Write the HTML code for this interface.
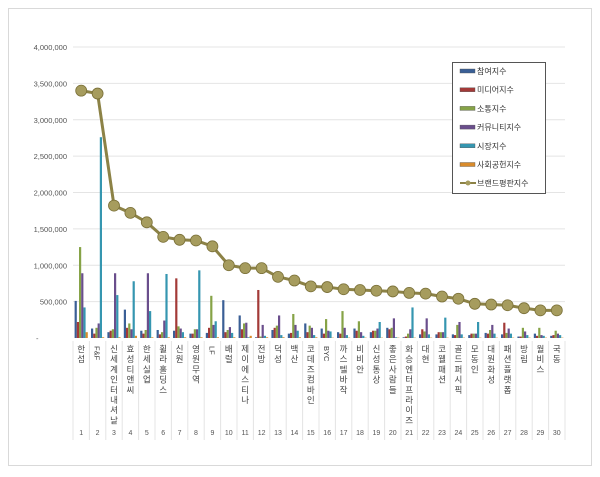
<!DOCTYPE html>
<html><head><meta charset="utf-8"><style>
body{margin:0;background:#fff;width:600px;height:472px;overflow:hidden}
svg{font-family:"Liberation Sans","Noto Sans CJK KR",sans-serif}
</style></head><body>
<svg id="s" width="600" height="472" xmlns="http://www.w3.org/2000/svg"></svg>
<script>
const s=document.getElementById('s');
let h='<rect x="8.5" y="8.5" width="583" height="457" fill="#fff" stroke="#d9d9d9"/>';
const x0=73,x1=565,cw=(x1-x0)/30,yz=338,ppk=(338-47)/4000;
const Y=v=>yz-v*ppk;
const ticks=['-','500,000','1,000,000','1,500,000','2,000,000','2,500,000','3,000,000','3,500,000','4,000,000'];
ticks.forEach((t,i)=>{const y=Y(i*500);
 if(i>0)h+=`<line x1="${x0}" x2="${x1}" y1="${y}" y2="${y}" stroke="#e4e4e4"/>`;
 h+=`<text x="${i==0?36:67}" y="${y+3}" font-size="7.5" fill="#555" text-anchor="${i==0?'start':'end'}">${t}</text>`;});
const cols=['#3a5f96','#a33a38','#86a347','#6a4e8c','#3596b0','#d98b2b'];
const bars=[[510,220,1250,890,420,80],[130,60,140,200,2760,10],[80,100,120,890,590,10],[390,140,200,120,780,30],[100,60,110,890,370,10],[110,50,80,240,880,10],[100,820,160,130,80,10],[60,60,120,120,930,10],[70,140,580,180,230,10],[520,80,110,150,70,10],[310,120,200,210,10,30],[10,660,20,180,30,10],[110,140,170,310,40,10],[60,70,330,180,100,10],[200,80,170,140,40,10],[130,60,260,100,90,5],[80,60,370,140,40,5],[130,100,230,80,30,5],[80,100,100,130,220,5],[140,120,140,270,10,5],[10,20,60,120,420,5],[50,120,90,270,50,5],[50,80,80,80,280,5],[50,40,180,220,50,5],[40,60,60,60,220,5],[70,60,110,180,60,5],[50,210,70,130,60,5],[20,20,140,90,40,5],[60,30,140,40,30,5],[30,40,100,60,40,5]];
const brand=[3400,3360,1820,1720,1590,1390,1350,1340,1260,1000,960,960,840,790,710,700,670,660,650,640,620,610,570,540,470,460,450,410,380,380];
const names=['한섬','F&F','신세계인터내셔날','효성티앤씨','한세실업','휠라홀딩스','신원','영원무역','LF','배럴','제이에스티나','전방','덕성','백산','코데즈컴바인','BYC','까스텔바작','비비안','신성통상','좋은사람들','화승엔터프라이즈','대현','코웰패션','골드퍼시픽','F&F','대원화성','패션플랫폼','방림','월비스','국동'];
names[24]='모동인';names[1]='F&F';
const bw=2.2;
for(let i=0;i<30;i++){const cx=x0+cw*i+cw/2;
 bars[i].forEach((v,j)=>{const x=cx-3*bw+j*bw;h+=`<rect x="${x}" y="${Y(v)}" width="${bw}" height="${v*ppk}" fill="${cols[j]}"/>`;});
 h+=`<line x1="${x0+cw*i}" x2="${x0+cw*i}" y1="341" y2="440" stroke="#e4e4e4"/>`;
 const nm=names[i];
 if(/^[A-Z&]+$/.test(nm)) h+=`<text transform="translate(${cx-3},346) rotate(90)" font-size="7.5" fill="#444">${nm}</text>`;
 else [...nm].forEach((c,k)=>h+=`<text x="${cx}" y="${352+k*10.2}" font-size="8.5" fill="#444" text-anchor="middle">${c}</text>`);
 h+=`<text x="${cx}" y="435" font-size="7" fill="#555" text-anchor="middle">${i+1}</text>`;}
h+=`<line x1="${x1}" x2="${x1}" y1="341" y2="440" stroke="#e4e4e4"/>`;
let p=brand.map((v,i)=>`${x0+cw*i+cw/2},${Y(v)}`).join(' ');
h+=`<polyline points="${p}" fill="none" stroke="#8c8246" stroke-width="3"/>`;
brand.forEach((v,i)=>h+=`<circle cx="${x0+cw*i+cw/2}" cy="${Y(v)}" r="5.5" fill="#a69c5e" stroke="#7a7038" stroke-width="0.8"/>`);
h+=`<rect x="452.5" y="62.5" width="93" height="131" fill="#fff" stroke="#555"/>`;
const lg=['참여지수','미디어지수','소통지수','커뮤니티지수','시장지수','사회공헌지수'];
lg.forEach((t,i)=>{const y=71+i*18.7;h+=`<rect x="460" y="${y-2}" width="15" height="4" fill="${cols[i]}" stroke="#555" stroke-width="0.4"/><text x="477" y="${y+3}" font-size="8" fill="#333">${t}</text>`;});
h+=`<line x1="460" x2="476" y1="183" y2="183" stroke="#8c8246" stroke-width="2"/><circle cx="468" cy="183" r="2.5" fill="#a69c5e"/><text x="477" y="186" font-size="8" fill="#333">브랜드평판지수</text>`;
s.innerHTML=h;
</script>
</body></html>
